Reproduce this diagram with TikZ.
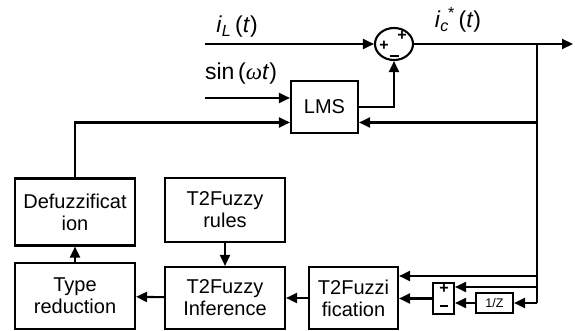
\documentclass[tikz,border=0pt]{standalone}
\usepackage{fontspec}
\setmainfont{Liberation Sans}
\newfontfamily\greekfont{Liberation Serif}
\usetikzlibrary{arrows.meta,shapes.geometric}

\begin{document}
\begin{tikzpicture}[x = 1pt, y = -1pt, line width = 2.1pt,
    >={Triangle[length = 11pt, width = 10pt]},
    block/.style = {draw, rectangle, inner sep = 0pt, align = center,
        minimum width = 120pt, font = \fontsize{20}{22}\selectfont},
    sign/.style = {inner sep = 0pt, text height = 7pt, text depth = 0pt,
        font = \bfseries\fontsize{16}{16}\selectfont},
    minusbar/.style = {fill, inner sep = 0pt, minimum width = 9pt, minimum height = 2.6pt},
    signal/.style = {inner sep = 0pt, font = \fontsize{23}{23}\selectfont}]
    \useasboundingbox (0,0) rectangle (575,331);

    \node[draw, ellipse, minimum width = 38pt, minimum height = 32pt, inner sep = 0pt] (sum) at (394,44) {};
    \node[block, minimum width = 67pt, minimum height = 52pt] (lms) at (324.5,107) {LMS};
    \node[block, minimum height = 67pt] (defuz) at (75,212) {Defuzzificat\\ion};
    \node[block, minimum height = 66pt] (typered) at (75,296) {Type\\reduction};
    \node[block, minimum height = 64pt] (rules) at (225,210) {T2Fuzzy\\rules};
    \node[block, minimum height = 62pt] (infer) at (225,298) {T2Fuzzy\\Inference};
    \node[block, minimum width = 89pt, minimum height = 62pt] (fuzzi) at (353.5,298) {T2Fuzzi\\fication};
    \node[draw, rectangle, minimum width = 21pt, minimum height = 31pt, inner sep = 0pt] (diff) at (443.5,298.5) {};
    \node[draw, rectangle, minimum width = 37pt, minimum height = 20pt, inner sep = 0pt,
        font = \fontsize{12.5}{12.5}\selectfont] (delay) at (494.5,303) {1/Z};

    \node[sign] (sumA) at (402,37) {+};
    \node[sign] (sumB) at (384,47) {+};
    \node[minusbar] (sumC) at (394,56) {};
    \node[sign] (diffA) at (444,290) {+};
    \node[minusbar, minimum width = 8pt] (diffB) at (444,306) {};

    \node[signal] (iL) at (237,27) {\textit{i}\textsubscript{\textit{L}}\,(\textit{t})};
    \node[signal] (sinwt) at (241,74) {sin\,({\greekfont\itshape ω}\textit{t})};
    \node[signal] (ic) at (458,20) {\textit{i}\textsubscript{\textit{c}}\kern-1pt\textsuperscript{*}\,(\textit{t})};

    \coordinate (inL) at (205,44);
    \coordinate (inSin) at (205,98);
    \coordinate (out) at (573,44);
    \coordinate (branch) at (537,44);
    \coordinate (fb) at (537,122.5);
    \coordinate (tapA) at (537,276);
    \coordinate (tapB) at (537,287);
    \coordinate (tapC) at (537,303);

    \draw[->] (inL) -- (sum);
    \draw[->] (sum) -- (out);
    \draw[->] (inSin) -- (inSin -| lms.west);
    \draw[->] (lms.east) -| (sum.south);
    \draw[->] (defuz.north) |- (lms.west |- fb);
    \draw[->] (fb) -- (lms.east |- fb);
    \draw (branch) -- (tapC);
    \draw[->] (tapA) -- (tapA -| fuzzi.east);
    \draw[->] (tapB) -- (tapB -| diff.east);
    \draw[->] (tapC) -- (delay);
    \draw[->] (delay) -- (delay -| diff.east);
    \draw[->] (diff) -- (diff -| fuzzi.east);
    \draw[->] (fuzzi) -- (infer);
    \draw[->] (infer) -- (typered);
    \draw[->] (rules) -- (infer);
    \draw[->] (typered) -- (defuz);
\end{tikzpicture}
\end{document}
